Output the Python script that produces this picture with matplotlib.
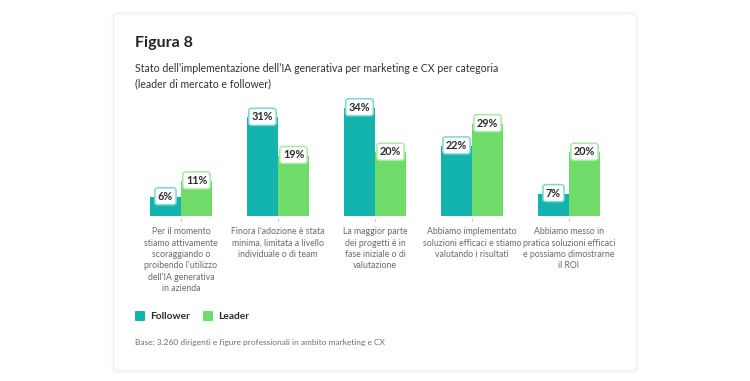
import matplotlib.pyplot as plt
from matplotlib.patches import FancyBboxPatch

categories = [
    "Per il momento\nstiamo attivamente\nscoraggiando o\nproibendo l\u2019utilizzo\ndell\u2019IA generativa\nin azienda",
    "Finora l\u2019adozione è stata\nminima, limitata a livello\nindividuale o di team",
    "La maggior parte\ndei progetti è in\nfase iniziale o di\nvalutazione",
    "Abbiamo implementato\nsoluzioni efficaci e stiamo\nvalutando i risultati",
    "Abbiamo messo in\npratica soluzioni efficaci\ne possiamo dimostrarne\nil ROI",
]
follower = [6, 31, 34, 22, 7]
leader = [11, 19, 20, 29, 20]

TEAL = "#12b4ad"
GREEN = "#6fdc6a"
TEAL_EDGE = "#7fd6d1"
GREEN_EDGE = "#a8eaa5"

plt.rcParams["font.family"] = ["Lato", "DejaVu Sans"]

W, H = 750, 381
fig = plt.figure(figsize=(W / 100, H / 100), dpi=100)
fig.patch.set_facecolor("white")

# card with soft shadow
for i, a in enumerate([0.012, 0.012, 0.012]):
    off = 3 - i
    sh = FancyBboxPatch(((114 - off) / W, 1 - (371 + off) / H), (522 + 2 * off) / W, (357 + 2 * off) / H,
                        boxstyle="round,pad=0,rounding_size=0.01", transform=fig.transFigure,
                        facecolor="black", edgecolor="none", alpha=a, zorder=-3)
    fig.patches.append(sh)
card = FancyBboxPatch((114 / W, 1 - 370 / H), 522 / W, 356 / H,
                      boxstyle="round,pad=0,rounding_size=0.008", transform=fig.transFigure,
                      facecolor="white", edgecolor="#f0f0f0", linewidth=0.6, zorder=-2)
fig.patches.append(card)

fig.text(135 / W, 1 - 43 / H, "Figura 8", fontsize=11.5, fontweight="bold", color="#222222", va="center")
fig.text(135 / W, 1 - 76.5 / H, "Stato dell\u2019implementazione dell\u2019IA generativa per marketing e CX per categoria\n(leader di mercato e follower)",
         fontsize=7.6, color="#333333", va="center", linespacing=1.5)

# chart axes (pixel geometry)
left, right, base, top = 135, 615, 216, 100
ax = fig.add_axes([left / W, 1 - base / H, (right - left) / W, (base - top) / H])
ax.set_xlim(-0.474, 4.474)
ax.set_ylim(0, 36.5)
ax.axis("off")

x = list(range(len(categories)))
bw = 0.32
fb = ax.bar([i - bw / 2 for i in x], follower, bw, color=TEAL, edgecolor="none")
lb = ax.bar([i + bw / 2 for i in x], leader, bw, color=GREEN, edgecolor="none")

for bars, vals, ec in [(fb, follower, TEAL_EDGE), (lb, leader, GREEN_EDGE)]:
    for b, v in zip(bars, vals):
        ax.text(b.get_x() + b.get_width() / 2, v + 0.2, f"{v}%", ha="center", va="center",
                fontsize=7.8, fontweight="bold", color="#2b2b2b",
                bbox=dict(boxstyle="round,pad=0.28,rounding_size=0.25", fc="white", ec=ec, lw=1.1))

for i, lab in enumerate(categories):
    ax.plot([i, i], [-0.9, -1.6], color="#bbbbbb", lw=0.6, clip_on=False)
    ax.text(i, -3.6, lab, ha="center", va="top", fontsize=6.3, color="#6b6b6b",
            linespacing=1.3, clip_on=False)

# legend
for px, col, name in [(135, TEAL, "Follower"), (203, GREEN, "Leader")]:
    sq = FancyBboxPatch((px / W, 1 - 321 / H), 10 / W, 10 / H,
                        boxstyle="round,pad=0,rounding_size=0.002", transform=fig.transFigure,
                        facecolor=col, edgecolor="none")
    fig.patches.append(sq)
    fig.text((px + 15) / W, 1 - 316.5 / H, name, fontsize=7.3, fontweight="bold",
             color="#2b2b2b", va="center")

fig.text(135 / W, 1 - 343 / H, "Base: 3.260 dirigenti e figure professionali in ambito marketing e CX",
         fontsize=6, color="#707070", va="center")

fig.savefig("out.png", dpi=100)
